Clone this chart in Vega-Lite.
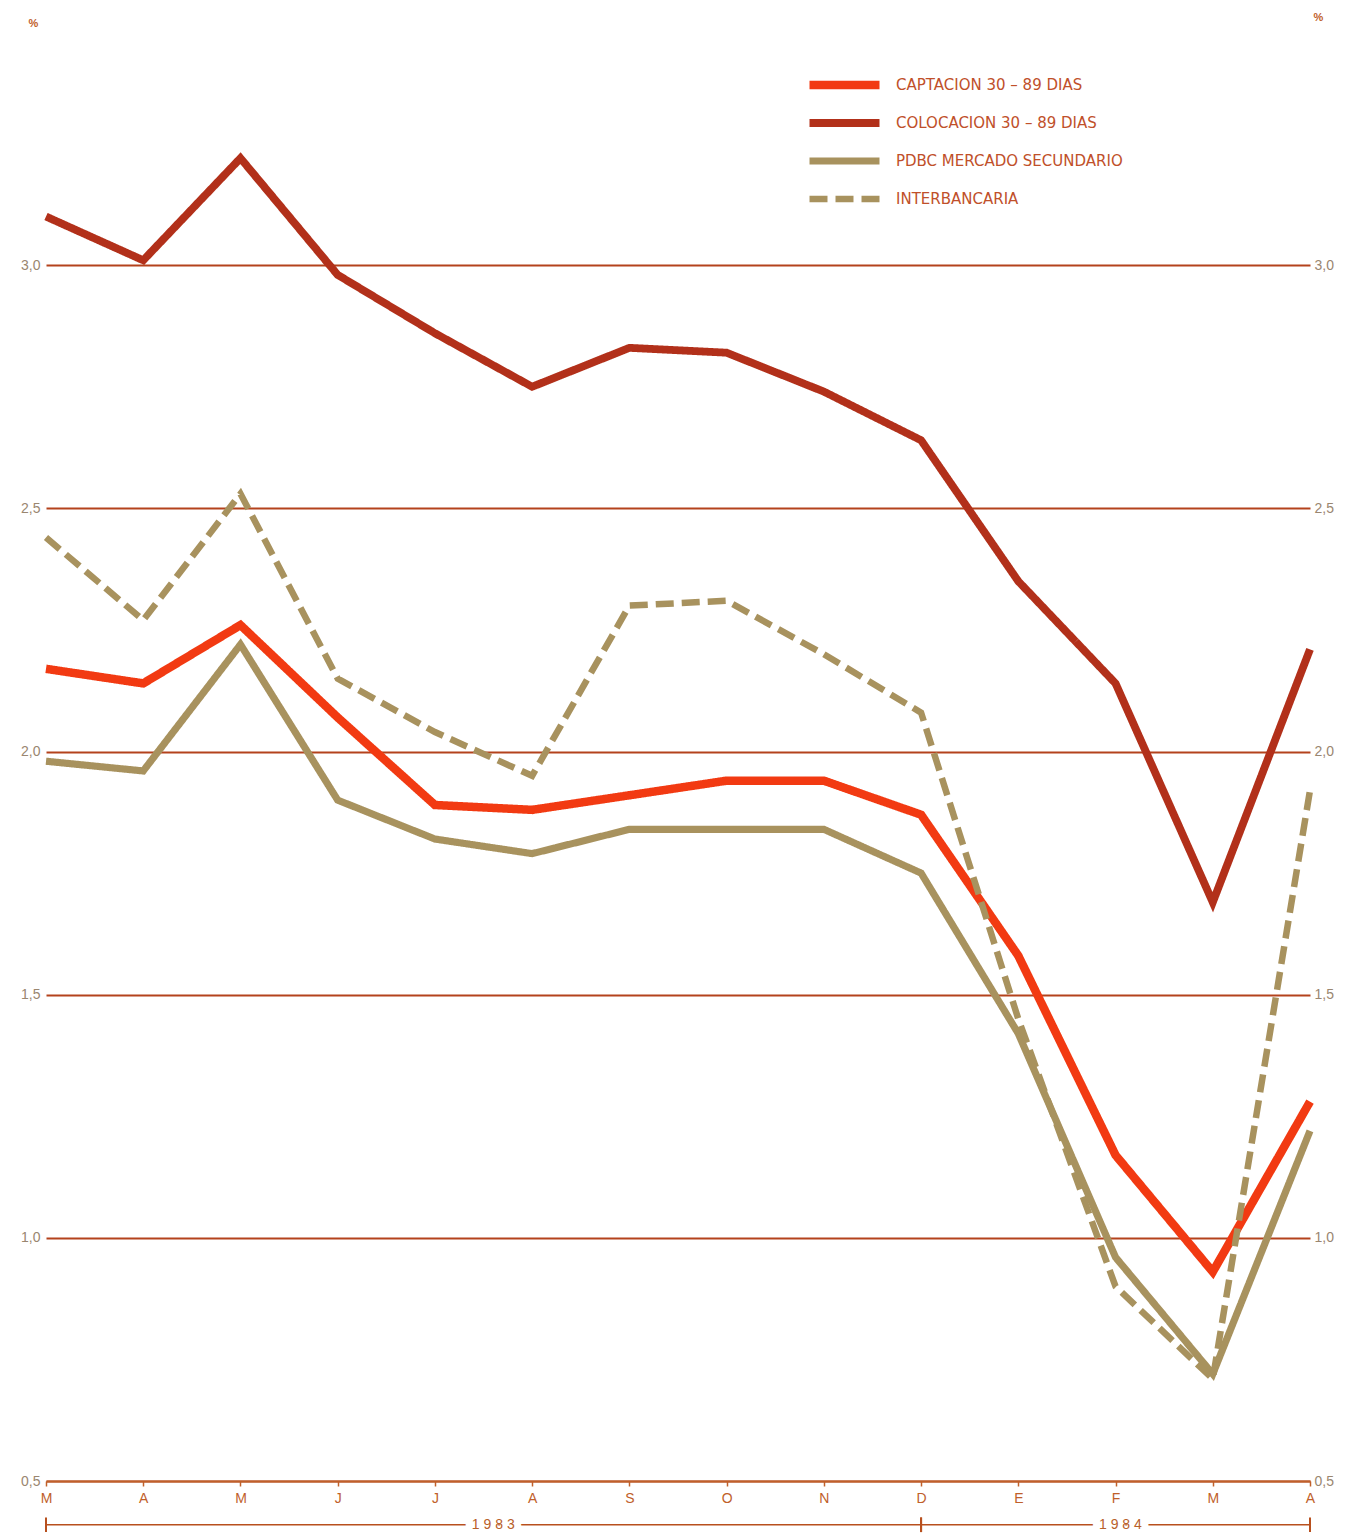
{
  "$schema": "https://vega.github.io/schema/vega-lite/v6.json",
  "autosize": {"type": "none"},
  "width": 1264,
  "height": 1459,
  "padding": {"left": 46, "top": 22, "right": 41, "bottom": 55},
  "background": "white",
  "config": {"view": {"stroke": null}, "font": "Liberation Sans"},
  "datasets": {
    "series": [
      {"n": 0, "mes": "M", "serie": "CAPTACION 30 – 89 DIAS", "v": 2.17},
      {"n": 1, "mes": "A", "serie": "CAPTACION 30 – 89 DIAS", "v": 2.14},
      {"n": 2, "mes": "M", "serie": "CAPTACION 30 – 89 DIAS", "v": 2.26},
      {"n": 3, "mes": "J", "serie": "CAPTACION 30 – 89 DIAS", "v": 2.07},
      {"n": 4, "mes": "J", "serie": "CAPTACION 30 – 89 DIAS", "v": 1.89},
      {"n": 5, "mes": "A", "serie": "CAPTACION 30 – 89 DIAS", "v": 1.88},
      {"n": 6, "mes": "S", "serie": "CAPTACION 30 – 89 DIAS", "v": 1.91},
      {"n": 7, "mes": "O", "serie": "CAPTACION 30 – 89 DIAS", "v": 1.94},
      {"n": 8, "mes": "N", "serie": "CAPTACION 30 – 89 DIAS", "v": 1.94},
      {"n": 9, "mes": "D", "serie": "CAPTACION 30 – 89 DIAS", "v": 1.87},
      {"n": 10, "mes": "E", "serie": "CAPTACION 30 – 89 DIAS", "v": 1.58},
      {"n": 11, "mes": "F", "serie": "CAPTACION 30 – 89 DIAS", "v": 1.17},
      {"n": 12, "mes": "M", "serie": "CAPTACION 30 – 89 DIAS", "v": 0.93},
      {"n": 13, "mes": "A", "serie": "CAPTACION 30 – 89 DIAS", "v": 1.28},
      {"n": 0, "mes": "M", "serie": "COLOCACION 30 – 89 DIAS", "v": 3.10},
      {"n": 1, "mes": "A", "serie": "COLOCACION 30 – 89 DIAS", "v": 3.01},
      {"n": 2, "mes": "M", "serie": "COLOCACION 30 – 89 DIAS", "v": 3.22},
      {"n": 3, "mes": "J", "serie": "COLOCACION 30 – 89 DIAS", "v": 2.98},
      {"n": 4, "mes": "J", "serie": "COLOCACION 30 – 89 DIAS", "v": 2.86},
      {"n": 5, "mes": "A", "serie": "COLOCACION 30 – 89 DIAS", "v": 2.75},
      {"n": 6, "mes": "S", "serie": "COLOCACION 30 – 89 DIAS", "v": 2.83},
      {"n": 7, "mes": "O", "serie": "COLOCACION 30 – 89 DIAS", "v": 2.82},
      {"n": 8, "mes": "N", "serie": "COLOCACION 30 – 89 DIAS", "v": 2.74},
      {"n": 9, "mes": "D", "serie": "COLOCACION 30 – 89 DIAS", "v": 2.64},
      {"n": 10, "mes": "E", "serie": "COLOCACION 30 – 89 DIAS", "v": 2.35},
      {"n": 11, "mes": "F", "serie": "COLOCACION 30 – 89 DIAS", "v": 2.14},
      {"n": 12, "mes": "M", "serie": "COLOCACION 30 – 89 DIAS", "v": 1.69},
      {"n": 13, "mes": "A", "serie": "COLOCACION 30 – 89 DIAS", "v": 2.21},
      {"n": 0, "mes": "M", "serie": "PDBC MERCADO SECUNDARIO", "v": 1.98},
      {"n": 1, "mes": "A", "serie": "PDBC MERCADO SECUNDARIO", "v": 1.96},
      {"n": 2, "mes": "M", "serie": "PDBC MERCADO SECUNDARIO", "v": 2.22},
      {"n": 3, "mes": "J", "serie": "PDBC MERCADO SECUNDARIO", "v": 1.90},
      {"n": 4, "mes": "J", "serie": "PDBC MERCADO SECUNDARIO", "v": 1.82},
      {"n": 5, "mes": "A", "serie": "PDBC MERCADO SECUNDARIO", "v": 1.79},
      {"n": 6, "mes": "S", "serie": "PDBC MERCADO SECUNDARIO", "v": 1.84},
      {"n": 7, "mes": "O", "serie": "PDBC MERCADO SECUNDARIO", "v": 1.84},
      {"n": 8, "mes": "N", "serie": "PDBC MERCADO SECUNDARIO", "v": 1.84},
      {"n": 9, "mes": "D", "serie": "PDBC MERCADO SECUNDARIO", "v": 1.75},
      {"n": 10, "mes": "E", "serie": "PDBC MERCADO SECUNDARIO", "v": 1.42},
      {"n": 11, "mes": "F", "serie": "PDBC MERCADO SECUNDARIO", "v": 0.96},
      {"n": 12, "mes": "M", "serie": "PDBC MERCADO SECUNDARIO", "v": 0.72},
      {"n": 13, "mes": "A", "serie": "PDBC MERCADO SECUNDARIO", "v": 1.22},
      {"n": 0, "mes": "M", "serie": "INTERBANCARIA", "v": 2.44},
      {"n": 1, "mes": "A", "serie": "INTERBANCARIA", "v": 2.27},
      {"n": 2, "mes": "M", "serie": "INTERBANCARIA", "v": 2.53},
      {"n": 3, "mes": "J", "serie": "INTERBANCARIA", "v": 2.15},
      {"n": 4, "mes": "J", "serie": "INTERBANCARIA", "v": 2.04},
      {"n": 5, "mes": "A", "serie": "INTERBANCARIA", "v": 1.95},
      {"n": 6, "mes": "S", "serie": "INTERBANCARIA", "v": 2.30},
      {"n": 7, "mes": "O", "serie": "INTERBANCARIA", "v": 2.31},
      {"n": 8, "mes": "N", "serie": "INTERBANCARIA", "v": 2.20},
      {"n": 9, "mes": "D", "serie": "INTERBANCARIA", "v": 2.08},
      {"n": 10, "mes": "E", "serie": "INTERBANCARIA", "v": 1.45},
      {"n": 11, "mes": "F", "serie": "INTERBANCARIA", "v": 0.90},
      {"n": 12, "mes": "M", "serie": "INTERBANCARIA", "v": 0.71},
      {"n": 13, "mes": "A", "serie": "INTERBANCARIA", "v": 1.92}
    ],
    "years": [
      {"ano": "1 9 8 3", "desde": 0, "hasta": 9, "centro": 4.6},
      {"ano": "1 9 8 4", "desde": 9, "hasta": 13, "centro": 11.05}
    ]
  },
  "resolve": {"axis": {"y": "independent"}},
  "layer": [
    {
      "data": {"name": "series"},
      "mark": {"type": "line", "strokeJoin": "miter", "strokeCap": "butt"},
      "encoding": {
        "x": {
          "field": "n", "type": "quantitative",
          "scale": {"domain": [0, 13], "nice": false, "zero": false},
          "axis": {
            "values": [0,1,2,3,4,5,6,7,8,9,10,11,12,13],
            "labelExpr": "['M','A','M','J','J','A','S','O','N','D','E','F','M','A'][datum.value]",
            "title": null, "grid": false,
            "domainColor": "#c0602a", "domainWidth": 2,
            "tickColor": "#c0602a", "tickSize": 5, "tickWidth": 1.5,
            "labelColor": "#c0602a", "labelFontSize": 14, "labelPadding": 5,
            "labelFlush": false
          }
        },
        "y": {
          "field": "v", "type": "quantitative",
          "scale": {"domain": [0.5, 3.5], "nice": false, "zero": false},
          "axis": {
            "orient": "left",
            "values": [0.5, 1, 1.5, 2, 2.5, 3],
            "labelExpr": "replace(format(datum.value, '.1f'), '.', ',')",
            "grid": true, "gridColor": "#b4421c", "gridWidth": 1.8,
            "domain": false, "ticks": false,
            "labelColor": "#9a8670", "labelFontSize": 14, "labelPadding": 6,
            "title": "%", "titleAngle": 0, "titleX": -13, "titleY": 6,
            "titleFontSize": 11, "titleColor": "#c0602a", "titleFontWeight": "bold"
          }
        },
        "color": {
          "field": "serie", "type": "nominal",
          "scale": {
            "domain": ["CAPTACION 30 – 89 DIAS", "COLOCACION 30 – 89 DIAS", "PDBC MERCADO SECUNDARIO", "INTERBANCARIA"],
            "range": ["#f23a12", "#b2301a", "#a8925e", "#a8925e"]
          },
          "legend": {
            "title": null, "orient": "none", "legendX": 759, "legendY": 45,
            "symbolType": "stroke", "symbolSize": 4900, "symbolStrokeWidth": 9,
            "clipHeight": 36, "rowPadding": 2, "labelOffset": 12,
            "labelFontSize": 15, "labelColor": "#c0502a", "labelFont": "DejaVu Sans",
            "labelLimit": 400
          }
        },
        "strokeDash": {
          "field": "serie", "type": "nominal",
          "scale": {
            "domain": ["CAPTACION 30 – 89 DIAS", "COLOCACION 30 – 89 DIAS", "PDBC MERCADO SECUNDARIO", "INTERBANCARIA"],
            "range": [[1, 0], [1, 0], [1, 0], [18, 8]]
          },
          "legend": {
            "title": null, "orient": "none", "legendX": 759, "legendY": 45,
            "symbolType": "stroke", "symbolSize": 4900, "symbolStrokeWidth": 9,
            "clipHeight": 36, "rowPadding": 2, "labelOffset": 12,
            "labelFontSize": 15, "labelColor": "#c0502a", "labelFont": "DejaVu Sans",
            "labelLimit": 400
          }
        },
        "strokeWidth": {
          "field": "serie", "type": "nominal",
          "scale": {
            "domain": ["CAPTACION 30 – 89 DIAS", "COLOCACION 30 – 89 DIAS", "PDBC MERCADO SECUNDARIO", "INTERBANCARIA"],
            "range": [8.5, 6.5, 6.5, 6.5]
          },
          "legend": null
        }
      }
    },
    {
      "data": {"name": "series"},
      "mark": {"type": "point", "opacity": 0},
      "encoding": {
        "x": {"field": "n", "type": "quantitative"},
        "y": {
          "field": "v", "type": "quantitative",
          "axis": {
            "orient": "right",
            "values": [0.5, 1, 1.5, 2, 2.5, 3],
            "labelExpr": "replace(format(datum.value, '.1f'), '.', ',')",
            "grid": false, "domain": false, "ticks": false,
            "labelColor": "#9a8670", "labelFontSize": 14, "labelPadding": 4,
            "title": "%", "titleAngle": 0, "titleX": 8, "titleY": 0,
            "titleFontSize": 11, "titleColor": "#c0602a", "titleFontWeight": "bold"
          }
        }
      }
    },
    {
      "data": {"name": "years"},
      "mark": {"type": "rule", "color": "#b8501e", "strokeWidth": 1.5, "clip": false},
      "encoding": {
        "x": {"field": "desde", "type": "quantitative"},
        "x2": {"field": "hasta"},
        "y": {"datum": 0.41, "axis": null}
      }
    },
    {
      "data": {"name": "years"},
      "mark": {"type": "rule", "color": "#b8501e", "strokeWidth": 2, "clip": false},
      "encoding": {
        "x": {"field": "desde", "type": "quantitative"},
        "y": {"datum": 0.425, "axis": null},
        "y2": {"datum": 0.395}
      }
    },
    {
      "data": {"name": "years"},
      "mark": {"type": "rule", "color": "#b8501e", "strokeWidth": 2, "clip": false},
      "encoding": {
        "x": {"field": "hasta", "type": "quantitative"},
        "y": {"datum": 0.425, "axis": null},
        "y2": {"datum": 0.395}
      }
    },
    {
      "data": {"name": "years"},
      "mark": {"type": "text", "stroke": "white", "strokeWidth": 14, "fill": "white", "fontSize": 14, "baseline": "middle", "clip": false},
      "encoding": {
        "x": {"field": "centro", "type": "quantitative"},
        "y": {"datum": 0.41, "axis": null},
        "text": {"field": "ano"}
      }
    },
    {
      "data": {"name": "years"},
      "mark": {"type": "text", "color": "#b8602a", "fontSize": 14, "baseline": "middle", "clip": false},
      "encoding": {
        "x": {"field": "centro", "type": "quantitative"},
        "y": {"datum": 0.41, "axis": null},
        "text": {"field": "ano"}
      }
    }
  ]
}
